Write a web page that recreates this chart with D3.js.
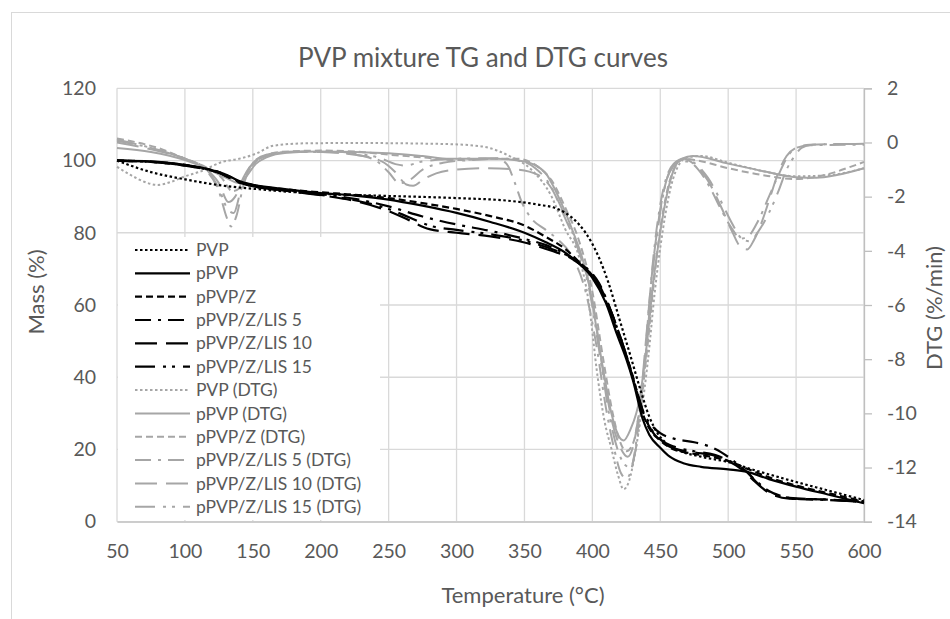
<!DOCTYPE html>
<html><head><meta charset="utf-8">
<script src="https://cdn.jsdelivr.net/npm/d3@7"></script>
<style>
body{margin:0;background:#fff;}
svg text{font-family:Lato,"Open Sans",sans-serif;fill:#595959;}
</style></head>
<body><svg id="c" width="950" height="619"></svg>
<script>
// ---- data (temperature °C, value) ----
const tempTicks = [50,100,150,200,250,300,350,400,450,500,550,600];
const massTicks = [0,20,40,60,80,100,120];
const dtgTicks = [-14,-12,-10,-8,-6,-4,-2,0,2];

const tgPVP = [[50,100],[60,98.6],[75,96.8],[100,94.8],[125,93.2],[150,92.2],[175,91.4],[200,90.8],[250,90.2],[300,89.6],[340,88.8],[360,87.8],[375,86.5],[385,84.2],[395,80],[405,73],[412,66],[420,56],[428,46],[435,37],[442,29],[448,24.5],[455,21.5],[465,19.5],[480,18],[500,16.5],[520,14.2],[550,11],[575,8.5],[600,6]];
const tgpPVP = [[50,100],[75,99.8],[100,98.8],[115,97.8],[125,96.8],[132,95.8],[140,94.3],[150,93.3],[175,92],[200,91],[225,90.3],[250,89.2],[275,87.5],[300,85.5],[325,83],[350,80],[365,77.5],[380,74.5],[390,71.5],[400,67.5],[410,60.5],[418,52],[425,45],[430,39],[437,28.5],[442,24],[450,20.5],[457,18],[467,16.2],[480,15.2],[500,14.5],[514,13.8],[530,11.8],[550,9.7],[575,7.4],[600,5.1]];
const tgpPVPZ = [[50,100],[75,99.7],[100,98.8],[115,97.8],[125,96.8],[132,95.7],[140,94.2],[150,93.2],[175,92],[200,91.2],[225,90.5],[250,89.6],[275,88.2],[300,86.6],[325,84.6],[350,82],[365,79],[380,75.5],[390,72],[400,68],[410,61],[418,53],[425,46],[430,40],[437,30],[442,25.8],[450,22.5],[460,20],[475,18.8],[490,17.8],[500,16.8],[515,14.5],[530,12.3],[550,10],[575,7.8],[600,5.6]];
const tgLIS5 = [[50,100],[75,99.6],[100,98.7],[115,97.7],[125,96.7],[132,95.5],[140,94],[150,93],[175,91.8],[200,90.7],[225,89.4],[250,87.3],[275,84.5],[300,82.3],[325,80.5],[350,78.3],[370,76],[385,73],[395,70.5],[405,66],[415,57],[425,46],[432,37],[438,30],[444,26.5],[450,24.5],[460,23],[475,22],[485,21],[495,19.2],[505,16.5],[513,14],[520,11.5],[530,8.5],[540,7],[550,6.3],[575,6],[600,5.4]];
const tgLIS10 = [[50,100],[75,99.6],[100,98.6],[115,97.6],[125,96.6],[132,95.4],[140,93.9],[150,92.9],[175,91.6],[200,90.4],[225,88.8],[250,86],[265,83.5],[280,81],[300,80],[325,79],[350,77.3],[370,75],[385,72.8],[395,70],[405,65.5],[415,57],[425,46],[432,37],[438,29.5],[444,25],[450,22.5],[460,20.3],[475,19.2],[490,18.3],[500,16.8],[510,14.5],[520,11],[530,8],[545,6.4],[575,6.1],[600,5.5]];
const tgLIS15 = [[50,100],[75,99.6],[100,98.6],[115,97.6],[125,96.6],[132,95.4],[140,93.9],[150,92.9],[175,91.6],[200,90.5],[225,89],[250,86.6],[265,84.3],[280,82],[300,80.8],[325,79.6],[350,77.8],[370,75.5],[385,73],[395,70.2],[405,65.5],[415,57],[425,46],[432,37],[438,29.5],[444,25.3],[450,22.8],[460,20.8],[475,19.5],[490,18.5],[500,17],[512,14.5],[522,10.5],[532,8],[545,6.6],[575,6.1],[600,5.4]];

const dtgPVP = [[50,-0.9],[60,-1.2],[70,-1.45],[80,-1.57],[90,-1.45],[100,-1.25],[111,-1.08],[128,-0.71],[140,-0.6],[153,-0.4],[165,-0.12],[190,-0.03],[225,-0.02],[285,-0.05],[310,-0.1],[324,-0.2],[339,-0.5],[355,-1.0],[370,-2.0],[380,-3.2],[390,-4.2],[397,-5.8],[404,-8.7],[409,-10.3],[414,-11.3],[419,-12.3],[423,-12.8],[427,-12.5],[431,-11.6],[436,-10],[441,-8],[446,-5.5],[452,-3.2],[458,-1.6],[464,-0.8],[470,-0.55],[480,-0.5],[500,-0.75],[525,-1.05],[550,-1.25],[575,-1.2],[600,-0.95]];
const dtgpPVP = [[50,-0.2],[75,-0.35],[100,-0.65],[118,-1.0],[130,-1.3],[140,-1.5],[146,-1.2],[152,-0.8],[160,-0.55],[175,-0.38],[200,-0.33],[250,-0.4],[275,-0.5],[295,-0.6],[330,-0.6],[350,-0.7],[365,-1.1],[375,-2.0],[385,-3.2],[397,-5.1],[407,-8.1],[414,-10.0],[419,-10.8],[423,-11.0],[428,-10.6],[435,-9.4],[440,-7.5],[445,-5.1],[450,-3.3],[455,-1.9],[460,-1.0],[466,-0.6],[474,-0.5],[500,-0.78],[525,-1.05],[550,-1.28],[565,-1.3],[580,-1.2],[600,-0.95]];
const dtgpPVPZ = [[50,0.15],[65,0.0],[80,-0.2],[100,-0.6],[115,-0.9],[127,-1.3],[135,-1.8],[140,-1.7],[146,-1.1],[155,-0.6],[170,-0.35],[200,-0.3],[230,-0.35],[250,-0.45],[275,-0.55],[300,-0.65],[325,-0.6],[345,-0.6],[360,-0.9],[370,-1.4],[380,-2.4],[390,-3.6],[400,-5.5],[408,-8],[415,-10],[420,-11],[425,-11.4],[430,-11.1],[435,-9.8],[440,-7.8],[445,-5.3],[450,-3.2],[455,-1.8],[461,-0.9],[468,-0.6],[476,-0.65],[500,-0.95],[525,-1.2],[550,-1.35],[575,-1.15],[590,-0.9],[600,-0.72]];
const dtgLIS5 = [[50,0.05],[75,-0.2],[100,-0.6],[115,-1.0],[125,-1.8],[131,-2.8],[134,-3.1],[138,-2.7],[143,-1.6],[150,-0.8],[160,-0.5],[175,-0.35],[200,-0.35],[225,-0.45],[240,-0.65],[250,-1.1],[258,-1.5],[265,-1.4],[275,-1.0],[290,-0.75],[310,-0.65],[330,-0.6],[337,-0.8],[343,-1.5],[348,-2.2],[355,-2.8],[365,-3.2],[375,-3.6],[385,-4.2],[395,-5.5],[403,-7.5],[410,-9.8],[416,-11.3],[421,-12.2],[425,-12.4],[429,-12.0],[433,-10.8],[437,-9],[441,-6.5],[445,-4.2],[450,-2.3],[456,-1.1],[463,-0.7],[470,-0.7],[478,-1.0],[487,-1.7],[495,-2.5],[503,-3.2],[509,-3.55],[515,-3.45],[522,-2.9],[530,-2.0],[537,-1.2],[544,-0.5],[550,-0.2],[560,-0.1],[600,-0.08]];
const dtgLIS10 = [[50,0.0],[75,-0.25],[100,-0.6],[115,-0.95],[125,-1.5],[132,-2.2],[137,-2.0],[143,-1.3],[150,-0.75],[160,-0.45],[180,-0.35],[200,-0.35],[225,-0.45],[245,-0.7],[255,-1.1],[263,-1.55],[268,-1.6],[276,-1.35],[285,-1.14],[300,-1.0],[320,-0.95],[345,-1.0],[360,-1.2],[370,-1.7],[380,-2.8],[390,-4.0],[400,-5.8],[408,-8.5],[415,-10.4],[421,-11.3],[426,-11.6],[431,-11.0],[436,-9.2],[440,-7],[444,-4.8],[449,-2.8],[454,-1.5],[460,-0.8],[467,-0.6],[475,-0.8],[485,-1.4],[495,-2.4],[503,-3.3],[509,-3.85],[514,-3.95],[519,-3.6],[525,-2.9],[531,-2.0],[537,-1.1],[543,-0.5],[550,-0.2],[560,-0.08],[600,-0.05]];
const dtgLIS15 = [[50,0.1],[75,-0.2],[100,-0.6],[115,-0.95],[125,-1.7],[132,-2.5],[136,-2.6],[141,-1.8],[148,-0.9],[158,-0.5],[175,-0.35],[200,-0.32],[225,-0.4],[245,-0.6],[255,-0.8],[262,-0.85],[275,-0.7],[300,-0.6],[325,-0.58],[345,-0.65],[358,-0.95],[368,-1.5],[378,-2.5],[388,-3.7],[398,-5.5],[406,-8],[413,-10.2],[419,-11.4],[424,-11.9],[428,-12.0],[432,-11.3],[436,-9.8],[440,-7.5],[444,-5],[449,-2.9],[454,-1.5],[460,-0.85],[467,-0.6],[475,-0.75],[485,-1.3],[495,-2.2],[503,-3.0],[510,-3.55],[516,-3.65],[522,-3.3],[530,-2.6],[537,-1.8],[543,-1.0],[549,-0.5],[554,-0.2],[562,-0.08],[600,-0.05]];

const seriesNames = ["PVP","pPVP","pPVP/Z","pPVP/Z/LIS 5","pPVP/Z/LIS 10","pPVP/Z/LIS 15",
  "PVP (DTG)","pPVP (DTG)","pPVP/Z (DTG)","pPVP/Z/LIS 5 (DTG)","pPVP/Z/LIS 10 (DTG)","pPVP/Z/LIS 15 (DTG)"];
const seriesData = [tgPVP,tgpPVP,tgpPVPZ,tgLIS5,tgLIS10,tgLIS15,dtgPVP,dtgpPVP,dtgpPVPZ,dtgLIS5,dtgLIS10,dtgLIS15];

// ---- styles ----
const dashes = ["2.5,2.5",null,"7,4","16,7,3,7","22,9","20,8,3,6,3,8"];
const svg = d3.select("#c");
const W = 950, H = 619;
const L = 117, R = 864, T = 88.3, B = 521.7;
const x = d3.scaleLinear().domain([50,600]).range([L,R]);
const yL = d3.scaleLinear().domain([0,120]).range([B,T]);
const yR = d3.scaleLinear().domain([-14,2]).range([B,T]);

svg.append("rect").attr("x",0).attr("y",0).attr("width",W).attr("height",H).attr("fill","#fff");
svg.append("rect").attr("x",11.5).attr("y",12.5).attr("width",960).attr("height",640)
  .attr("fill","none").attr("stroke","#d9d9d9").attr("stroke-width",1);

// gridlines
const grid = svg.append("g");
grid.selectAll("line.h").data(massTicks).join("line")
  .attr("x1",L).attr("x2",R).attr("y1",d=>yL(d)).attr("y2",d=>yL(d))
  .attr("stroke","#d9d9d9").attr("stroke-width",1.3);
grid.selectAll("line.v").data(tempTicks).join("line")
  .attr("x1",d=>x(d)).attr("x2",d=>x(d)).attr("y1",T).attr("y2",B)
  .attr("stroke","#d9d9d9").attr("stroke-width",1.3);

// axes
const fs = "19.5px";
const axL = svg.append("g").attr("transform",`translate(${L-21},0)`)
  .call(d3.axisLeft(yL).tickValues(massTicks).tickSize(0).tickPadding(0));
axL.select(".domain").remove();
axL.selectAll("text").style("font-size",fs).attr("fill","#595959");

const axB = svg.append("g").attr("transform",`translate(0,${B})`)
  .call(d3.axisBottom(x).tickValues(tempTicks).tickSize(0).tickPadding(22));
axB.select(".domain").attr("stroke","#bfbfbf").attr("stroke-width",1.3);
axB.selectAll("text").style("font-size",fs).attr("fill","#595959");

const axR = svg.append("g").attr("transform",`translate(${R},0)`)
  .call(d3.axisRight(yR).tickValues(dtgTicks).tickSize(8).tickPadding(15));
axR.select(".domain").attr("stroke","#bfbfbf").attr("stroke-width",1.3);
axR.selectAll(".tick line").attr("stroke","#bfbfbf").attr("stroke-width",1.3);
axR.selectAll("text").style("font-size",fs).attr("fill","#595959")
  .text(d=>d<0 ? "-"+Math.abs(d) : d);

// curves
const lineL = d3.line().x(d=>x(d[0])).y(d=>yL(d[1])).curve(d3.curveMonotoneX);
const lineR = d3.line().x(d=>x(d[0])).y(d=>yR(d[1])).curve(d3.curveMonotoneX);
const plot = svg.append("g");
// DTG first (behind), then TG
[6,7,8,9,10,11,0,1,2,3,4,5].forEach(i=>{
  const dtg = i>=6;
  plot.append("path").datum(seriesData[i])
    .attr("d", dtg ? lineR : lineL)
    .attr("fill","none")
    .attr("stroke", dtg ? "#a6a6a6" : "#000")
    .attr("stroke-width", dtg ? 2 : 2.2)
    .attr("stroke-dasharray", dashes[i%6]);
});

// legend
const leg = svg.append("g");
leg.append("rect").attr("x",118).attr("y",237).attr("width",262).attr("height",283).attr("fill","#fff");
seriesNames.forEach((n,i)=>{
  const yy = 250 + i*23.34;
  const dtg = i>=6;
  leg.append("line").attr("x1",135).attr("x2",190).attr("y1",yy).attr("y2",yy)
    .attr("stroke", dtg ? "#a6a6a6" : "#000").attr("stroke-width", dtg?2:2.2)
    .attr("stroke-dasharray", dashes[i%6]);
  leg.append("text").attr("x",196).attr("y",yy).attr("dy","0.35em")
    .style("font-size","17.5px").text(n);
});

// titles
svg.append("text").attr("x",483).attr("y",58).attr("dy","0.35em").attr("text-anchor","middle")
  .style("font-size","26px").text("PVP mixture TG and DTG curves");
svg.append("text").attr("x",523).attr("y",595).attr("dy","0.35em").attr("text-anchor","middle")
  .style("font-size","22px").text("Temperature (°C)");
svg.append("text").attr("transform","translate(36,292) rotate(-90)").attr("dy","0.35em")
  .attr("text-anchor","middle").style("font-size","22px").text("Mass (%)");
svg.append("text").attr("transform","translate(934,308) rotate(-90)").attr("dy","0.35em")
  .attr("text-anchor","middle").style("font-size","22px").text("DTG (%/min)");
</script></body></html>
